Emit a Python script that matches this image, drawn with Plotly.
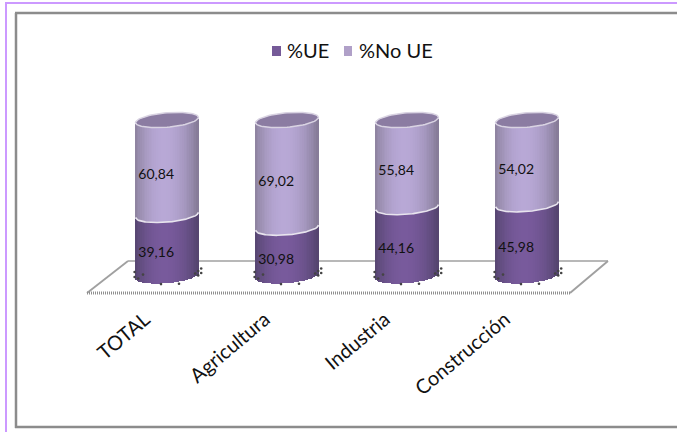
import numpy as np
import plotly.graph_objects as go

categories = ["TOTAL", "Agricultura", "Industria", "Construcción"]
ue_values = [39.16, 30.98, 44.16, 45.98]
no_ue_values = [60.84, 69.02, 55.84, 54.02]
ue_labels = ["39,16", "30,98", "44,16", "45,98"]
no_ue_labels = ["60,84", "69,02", "55,84", "54,02"]
series_names = ["%UE", "%No UE"]

W, H = 677, 432
PX_L, PX_R, PX_T, PX_B = 47, 647, 100, 300
PX_PER_UNIT = 1.56
Y0_PX = 276
xs = np.arange(len(categories))
ue = np.array(ue_values)
no = np.array(no_ue_values)

HALF = 0.262          # half cylinder width, category units
ELL = 7.2 / PX_PER_UNIT
TILT = 2.6 / PX_PER_UNIT
N = 36


def px(x):
    return (x - PX_L) / (PX_R - PX_L)


def py(y):
    return 1 - (y - PX_T) / (PX_B - PX_T)


def mix(c1, c2, t):
    return "rgb(%d,%d,%d)" % tuple(round(a + (b - a) * t) for a, b in zip(c1, c2))


def shade(u, edge_l, mid, edge_r):
    s = (u + 0.08) / 1.08 if u > -0.08 else (u + 0.08) / 0.92
    return mix(mid, edge_r, s ** 2) if s > 0 else mix(mid, edge_l, s ** 2)


def front(u):
    return -ELL * np.sqrt(np.clip(1 - u ** 2, 0, 1)) + TILT * u


fig = go.Figure()
us = (np.arange(N) + 0.5) / N * 2 - 1
slice_w = 2 * HALF / N * 1.12
for u in us:
    off = u * HALF
    d = front(u)
    fig.add_bar(x=xs + off, y=ue, base=d, width=slice_w, showlegend=False, hoverinfo="skip",
                marker=dict(color=shade(u, (86, 70, 112), (120, 90, 156), (84, 68, 110)), line_width=0))
    fig.add_bar(x=xs + off, y=no, base=ue + d, width=slice_w, showlegend=False, hoverinfo="skip",
                marker=dict(color=shade(u, (140, 130, 158), (184, 168, 214), (132, 122, 150)), line_width=0))

# Curved joins and tops of each cylinder, placed from the stacked values
t = np.linspace(0, 2 * np.pi, 73)
ut = np.linspace(-1, 1, 61)
for i in range(len(categories)):
    top = ue[i] + no[i]
    fig.add_scatter(x=xs[i] + HALF * np.cos(t),
                    y=top + ELL * np.sin(t) + TILT * np.cos(t),
                    mode="lines", fill="toself", fillcolor="#8b7ca2",
                    line=dict(color="#d9d3e2", width=1.5), showlegend=False, hoverinfo="skip")
    fig.add_scatter(x=xs[i] + HALF * ut, y=ue[i] + front(ut), mode="lines",
                    line=dict(color="#e8e4ee", width=1.6), showlegend=False, hoverinfo="skip")

# Dotted shadow flecks at the foot of each cylinder
dx = np.array([-0.27, -0.27, -0.24, -0.20, 0.235, 0.26, 0.285, 0.26, 0.285, -0.05, 0.10])
dy = np.array([2.6, -0.6, -1.6, 0.9, 1.6, 3.2, 4.8, 0.4, 1.9, -5.2, -5.0])
fig.add_scatter(x=np.concatenate([xs[i] + dx for i in range(4)]),
                y=np.concatenate([dy for _ in range(4)]),
                mode="markers", marker=dict(size=2.6, color="#444444"),
                showlegend=False, hoverinfo="skip")

label_off = -0.09
fig.add_scatter(x=xs + label_off, y=ue * 0.52 - 6, text=ue_labels, mode="text", textposition="middle center",
                textfont=dict(family="Lato", size=14, color="#111111"), showlegend=False, hoverinfo="skip")
fig.add_scatter(x=xs + label_off, y=ue + no * 0.48 - 4, text=no_ue_labels, mode="text", textposition="middle center",
                textfont=dict(family="Lato", size=14, color="#111111"), showlegend=False, hoverinfo="skip")

shapes = [
    # outer lavender edge
    dict(type="line", x0=px(6), x1=px(6), y0=py(3), y1=py(432), line=dict(color="#cc99ff", width=2)),
    dict(type="line", x0=px(5), x1=px(677), y0=py(3), y1=py(3), line=dict(color="#cc99ff", width=2)),
    # grey frame
    dict(type="line", x0=px(16), x1=px(16), y0=py(13), y1=py(428), line=dict(color="#8c8c8c", width=2.5)),
    dict(type="line", x0=px(15), x1=px(677), y0=py(13), y1=py(13), line=dict(color="#8c8c8c", width=2.5)),
    dict(type="line", x0=px(15), x1=px(677), y0=py(427), y1=py(427), line=dict(color="#8c8c8c", width=2.5)),
    # floor
    dict(type="line", x0=px(128), x1=px(608), y0=py(261), y1=py(261), line=dict(color="#a0a0a0", width=1.3)),
    dict(type="line", x0=px(87), x1=px(128), y0=py(293), y1=py(261), line=dict(color="#a0a0a0", width=1.8)),
    dict(type="line", x0=px(570), x1=px(608), y0=py(293), y1=py(261), line=dict(color="#a0a0a0", width=1.8)),
    dict(type="line", x0=px(87), x1=px(570), y0=py(293), y1=py(293), line=dict(color="#8f8f8f", width=3, dash="1px,1px")),
    # legend swatches
    dict(type="rect", x0=px(272), x1=px(281), y0=py(46), y1=py(56), fillcolor="#755a98", line_width=0),
    dict(type="rect", x0=px(344), x1=px(352), y0=py(46), y1=py(56), fillcolor="#b0a0c8", line_width=0),
]
for s in shapes:
    s.update(xref="paper", yref="paper", layer="below")

annotations = [
    dict(text=series_names[0], x=px(285), y=py(50), xref="paper", yref="paper", xanchor="left", yanchor="middle",
         showarrow=False, font=dict(family="Lato", size=20, color="#111111")),
    dict(text=series_names[1], x=px(357), y=py(50), xref="paper", yref="paper", xanchor="left", yanchor="middle",
         showarrow=False, font=dict(family="Lato", size=20, color="#111111")),
]

fig.update_layout(
    width=W, height=H, autosize=False, barmode="overlay", bargap=0, showlegend=False,
    margin=dict(l=PX_L, r=W - PX_R, t=PX_T, b=H - PX_B, pad=0),
    paper_bgcolor="white", plot_bgcolor="rgba(0,0,0,0)",
    font=dict(family="Lato", color="#111111"),
    shapes=shapes, annotations=annotations,
    xaxis=dict(range=[-1, 4], tickmode="array", tickvals=list(xs), ticktext=categories,
               tickangle=-40, showgrid=False, zeroline=False, showline=False,
               ticks="", ticklabelstandoff=3, ticklabelshift=-22,
               tickfont=dict(family="Lato", size=20, color="#111111")),
    yaxis=dict(range=[(Y0_PX - PX_B) / PX_PER_UNIT, (Y0_PX - PX_T) / PX_PER_UNIT],
               visible=False, showgrid=False, zeroline=False),
)
fig.write_html("out.html", config=dict(displayModeBar=False),
               post_script="document.body.style.margin='0';document.body.style.overflow='hidden';")
